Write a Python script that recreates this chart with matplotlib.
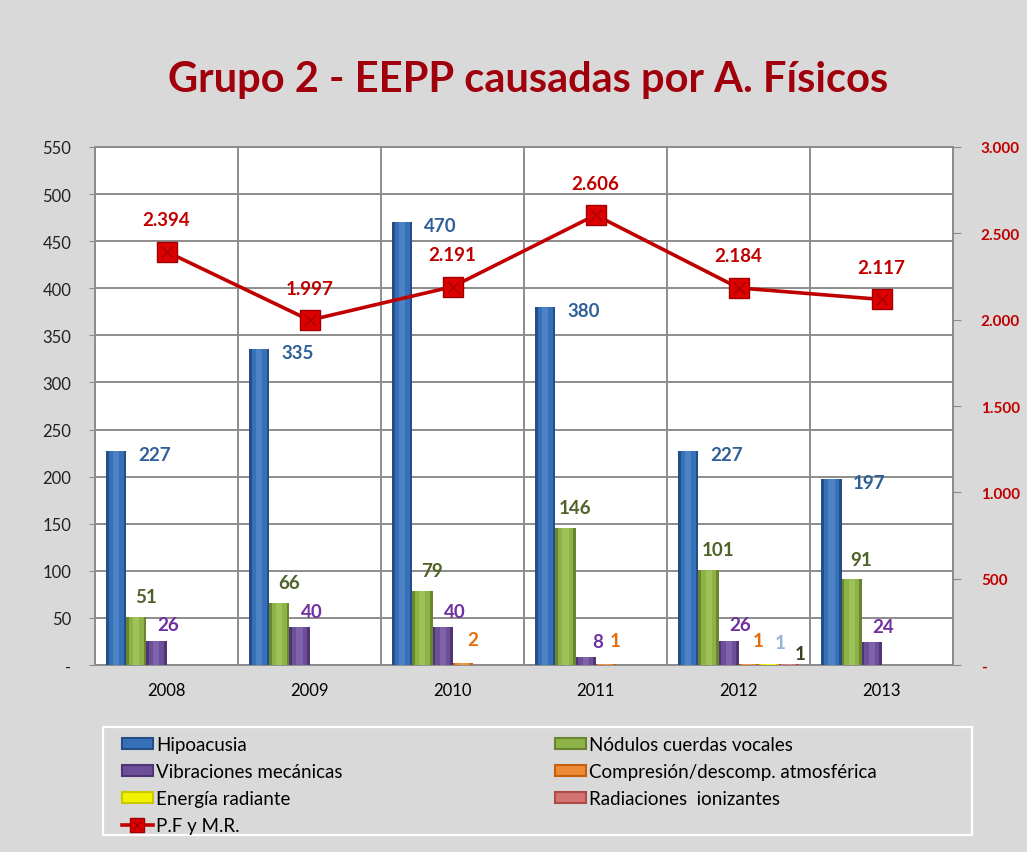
import matplotlib
matplotlib.use("Agg")
import matplotlib.pyplot as plt
from matplotlib.patches import Patch, Rectangle
from matplotlib.lines import Line2D
from matplotlib.legend_handler import HandlerTuple
from matplotlib.ticker import FuncFormatter
import numpy as np

plt.rcParams['font.family'] = ['Lato', 'DejaVu Sans']

years = ["2008", "2009", "2010", "2011", "2012", "2013"]
series_names = ["Hipoacusia", "Nódulos cuerdas vocales", "Vibraciones mecánicas",
                "Compresión/descomp. atmosférica", "Energía radiante", "Radiaciones  ionizantes"]
hipoacusia = [227, 335, 470, 380, 227, 197]
nodulos = [51, 66, 79, 146, 101, 91]
vibraciones = [26, 40, 40, 8, 26, 24]
compresion = [0, 0, 2, 1, 1, 0]
energia = [0, 0, 0, 0, 1, 0]
radiaciones = [0, 0, 0, 0, 1, 0]
pfmr = [2394, 1997, 2191, 2606, 2184, 2117]
line_name = "P.F y M.R."
title = "Grupo 2 - EEPP causadas por A. Físicos"

series_values = [hipoacusia, nodulos, vibraciones, compresion, energia, radiaciones]
# (dark, mid, light) bar colours
bar_colors = [("#234f86", "#3670b8", "#7aa6de"),
              ("#6a8530", "#8db347", "#c2de80"),
              ("#4f3672", "#6c4f98", "#a58bcc"),
              ("#c45f0c", "#ee8a35", "#f9b27a"),
              ("#c8c800", "#f2f200", "#ffff70"),
              ("#b04a48", "#d27572", "#e9a3a1")]
label_colors = ["#2f5f98", "#4f6228", "#7030a0", "#e46c0a", "#95b3d7", "#3f3f1f"]
label_offsets = [(38, -3), (10, 20), (12, 16), (10, 24), (12, 22), (12, 11)]

BG = "#d9d9d9"
RED = "#c00000"
fig = plt.figure(figsize=(10.27, 8.53), dpi=100, facecolor=BG)
ax = fig.add_axes([0.0925, 0.2192, 0.8355, 0.6073])
ax.set_facecolor("white")

x = np.arange(len(years))
w = 0.14
n = len(series_values)
for k, (vals, cols) in enumerate(zip(series_values, bar_colors)):
    pos = x + (k - (n - 1) / 2) * w
    ax.bar(pos, vals, width=w, color=cols[0], zorder=3, linewidth=0)
    ax.bar(pos, vals, width=w * 0.75, color=cols[1], zorder=3.1, linewidth=0)
    ax.bar(pos, vals, width=w * 0.3, color=cols[2], zorder=3.2, linewidth=0, alpha=0.35)
    dx, dy = label_offsets[k]
    for p, v in zip(pos, vals):
        if v > 0:
            ax.annotate(f"{v}", (p, v), xytext=(dx, dy), textcoords="offset pixels",
                        ha="center", va="center", color=label_colors[k],
                        fontsize=13.5, fontweight="bold", zorder=6)

ax.set_xlim(-0.5, len(years) - 0.5)
ax.set_ylim(0, 550)
ax.set_yticks(np.arange(0, 551, 50))
ax.yaxis.set_major_formatter(FuncFormatter(lambda v, p: "-" if v == 0 else f"{v:.0f}"))
ax.set_xticks(x)
ax.set_xticklabels(years)
ax.set_xticks(np.arange(-0.5, len(years), 1), minor=True)
ax.grid(True, which="major", axis="y", color="#8c8c8c", lw=1.4, zorder=0)
ax.grid(True, which="minor", axis="x", color="#8c8c8c", lw=1.4, zorder=0)
ax.tick_params(axis="x", which="both", length=0, labelsize=12, colors="black", pad=12)
ax.tick_params(axis="y", length=4, color="#8c8c8c", labelsize=12, labelcolor="#222222", pad=13)
for s in ax.spines.values():
    s.set_color("#8c8c8c")
    s.set_linewidth(1.4)

ax2 = ax.twinx()
ax2.set_ylim(0, 3000)
ax2.set_yticks(np.arange(0, 3001, 500))
ax2.yaxis.set_major_formatter(FuncFormatter(
    lambda v, p: "-" if v == 0 else f"{v:,.0f}".replace(",", ".")))
ax2.tick_params(axis="y", length=6, color="#8c8c8c", labelsize=11, labelcolor=RED, pad=14)
for lab in ax2.get_yticklabels():
    lab.set_fontweight("bold")
for s in ax2.spines.values():
    s.set_visible(False)

ax2.plot(x, pfmr, color=RED, lw=2.6, zorder=4)
ax2.plot(x, pfmr, ls="none", marker="s", markersize=15, mfc="#dc0000", mec="#a00000",
         mew=1.0, zorder=5)
ax2.plot(x, pfmr, ls="none", marker="x", markersize=9, mec="#a80000", mew=1.0, zorder=5.1)
for xi, v in zip(x, pfmr):
    ax2.annotate(f"{v:,.0f}".replace(",", "."), (xi, v), xytext=(0, 32),
                 textcoords="offset pixels", ha="center", va="center",
                 color=RED, fontsize=13.5, fontweight="bold")

fig.text(0.5146, 0.906, title, ha="center", va="center", color="#a0000c",
         fontsize=30, fontweight="bold")

# legend frame
fig.add_artist(Rectangle((0.1003, 0.0199), 0.8461, 0.1266, transform=fig.transFigure,
                         facecolor="none", edgecolor="white", lw=1.6))
handles = [Patch(facecolor=c[1], edgecolor=c[0], lw=1.5) for c in bar_colors]
line_h = (Line2D([], [], color=RED, lw=2.6),
          Line2D([], [], ls="none", marker="s", markersize=10, mfc="#dc0000", mec="#a00000"),
          Line2D([], [], ls="none", marker="x", markersize=6, mec="#a80000", mew=1.0))
col1_h = [handles[0], handles[2], handles[4], line_h]
col1_l = [series_names[0], series_names[2], series_names[4], line_name]
col2_h = [handles[1], handles[3], handles[5]]
col2_l = [series_names[1], series_names[3], series_names[5]]
common = dict(loc="upper left", frameon=False, fontsize=13.5, handlelength=1.65,
              handleheight=0.55, handletextpad=0.15, labelspacing=0.54,
              borderaxespad=0, borderpad=0,
              handler_map={tuple: HandlerTuple(ndivide=1, pad=0)})
fig.legend(col1_h, col1_l, bbox_to_anchor=(122 / 1027, 1 - 737 / 853), **common)
fig.legend(col2_h, col2_l, bbox_to_anchor=(555 / 1027, 1 - 737 / 853), **common)

fig.savefig("out.png", dpi=100, facecolor=BG)
